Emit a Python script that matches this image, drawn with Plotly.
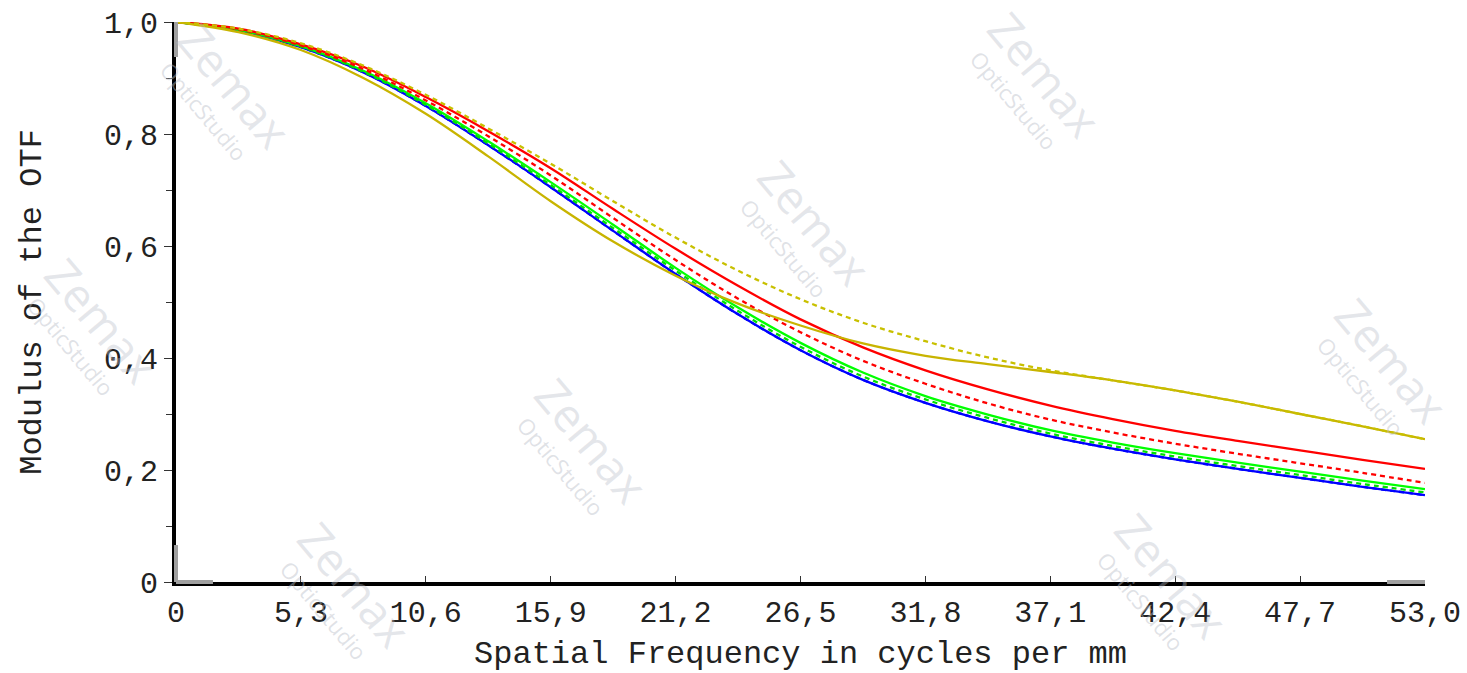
import plotly.graph_objects as go

# Spatial frequency samples (cycles per mm)
freq = [0, 2.65, 5.3, 7.95, 10.6, 13.25, 15.9, 18.55, 21.2, 23.85, 26.5,
        29.15, 31.8, 34.45, 37.1, 39.75, 42.4, 45.05, 47.7, 50.35, 53.0]

# MTF curves (T = solid, S = dotted) per field
blue_t = [1.0, 0.985, 0.955, 0.91, 0.85, 0.78, 0.705, 0.627, 0.55, 0.478, 0.414,
          0.361, 0.32, 0.287, 0.26, 0.238, 0.219, 0.202, 0.186, 0.17, 0.155]
blue_s = [1.0, 0.985, 0.955, 0.91, 0.85, 0.78, 0.705, 0.627, 0.55, 0.478, 0.414,
          0.361, 0.32, 0.287, 0.26, 0.238, 0.219, 0.202, 0.186, 0.17, 0.155]
green_t = [1.0, 0.986, 0.957, 0.913, 0.855, 0.787, 0.714, 0.638, 0.561, 0.490, 0.427,
           0.374, 0.332, 0.299, 0.271, 0.249, 0.230, 0.213, 0.197, 0.181, 0.166]
green_s = [1.0, 0.985, 0.956, 0.911, 0.852, 0.783, 0.709, 0.632, 0.556, 0.484, 0.420,
           0.367, 0.326, 0.293, 0.265, 0.243, 0.224, 0.207, 0.191, 0.175, 0.160]
red_t = [1.0, 0.988, 0.96, 0.92, 0.866, 0.805, 0.739, 0.666, 0.595, 0.529, 0.469,
         0.419, 0.378, 0.344, 0.315, 0.291, 0.27, 0.252, 0.235, 0.218, 0.202]
red_s = [1.0, 0.987, 0.958, 0.916, 0.86, 0.796, 0.726, 0.65, 0.575, 0.506, 0.446,
         0.395, 0.354, 0.319, 0.29, 0.267, 0.247, 0.229, 0.212, 0.195, 0.177]
yellow_t = [1.0, 0.982, 0.95, 0.9, 0.836, 0.76, 0.68, 0.608, 0.547, 0.497, 0.458,
            0.426, 0.404, 0.389, 0.375, 0.36, 0.342, 0.322, 0.3, 0.278, 0.255]
yellow_s = [1.0, 0.988, 0.962, 0.922, 0.87, 0.81, 0.747, 0.68, 0.615, 0.556, 0.505,
            0.463, 0.43, 0.401, 0.378, 0.36, 0.342, 0.322, 0.3, 0.278, 0.255]

x_tickvals = [0, 5.3, 10.6, 15.9, 21.2, 26.5, 31.8, 37.1, 42.4, 47.7, 53.0]
x_ticktext = ["0", "5,3", "10,6", "15,9", "21,2", "26,5", "31,8", "37,1", "42,4", "47,7", "53,0"]
y_tickvals = [0, 0.2, 0.4, 0.6, 0.8, 1.0]
y_ticktext = ["0", "0,2", "0,4", "0,6", "0,8", "1,0"]

series = [
    ("Field 1 T", blue_t, "#0000FF", "solid"),
    ("Field 1 S", blue_s, "#0000FF", "5px,4px"),
    ("Field 2 T", green_t, "#00FF00", "solid"),
    ("Field 2 S", green_s, "#00E000", "5px,4px"),
    ("Field 3 T", red_t, "#FF0000", "solid"),
    ("Field 3 S", red_s, "#FF0000", "5px,4px"),
    ("Field 4 T", yellow_t, "#C8B400", "solid"),
    ("Field 4 S", yellow_s, "#C8C000", "5px,4px"),
]

fig = go.Figure()
for name, ys, col, dash in series:
    fig.add_trace(go.Scatter(x=freq, y=ys, mode="lines", name=name,
                             line=dict(color=col, width=2.3, dash=dash,
                                       shape="spline", smoothing=1.0)))

# Plot area in pixels (used for placing decorations)
L, R, T, B = 176, 1425, 22, 582


def to_paper(px, py):
    return (px - L) / (R - L), (B - py) / (B - T)


# Watermarks ("Zemax" with "OpticStudio" beneath, rotated)
wm_color = "rgba(185,190,200,0.38)"
wm_color2 = "rgba(185,190,200,0.45)"
wm_pos = [(235, 85), (815, 222), (592, 440), (1392, 360), (1045, 74),
          (1172, 575), (102, 320), (355, 584)]
annots = []
for px, py in wm_pos:
    ax, ay = to_paper(px, py)
    annots.append(dict(
        x=ax, y=ay, xref="paper", yref="paper",
        text="Zemax", showarrow=False, textangle=50,
        font=dict(family="Open Sans, Arial", size=46, color=wm_color),
        xanchor="center", yanchor="middle"))
    bx, by = to_paper(px - 31, py + 26)
    annots.append(dict(
        x=bx, y=by, xref="paper", yref="paper",
        text="OpticStudio", showarrow=False, textangle=50,
        font=dict(family="Open Sans, Arial", size=22, color=wm_color2),
        xanchor="center", yanchor="middle"))

mono = "Liberation Mono, DejaVu Sans Mono, monospace"
gray = "#a0a0a0"
shapes = [
    dict(type="line", xref="paper", yref="paper", x0=0, x1=0, y0=0.9375, y1=1.0,
         line=dict(color=gray, width=4)),
    dict(type="line", xref="paper", yref="paper", x0=0, x1=0, y0=0.0, y1=0.066,
         line=dict(color=gray, width=4)),
    dict(type="line", xref="paper", yref="paper", x0=0, x1=0.0296, y0=0, y1=0,
         line=dict(color=gray, width=4)),
    dict(type="line", xref="paper", yref="paper", x0=0.9696, x1=1.0, y0=0, y1=0,
         line=dict(color=gray, width=4)),
]

fig.update_layout(
    width=1467, height=673,
    margin=dict(l=L, r=1467 - R, t=T, b=673 - B, autoexpand=False),
    paper_bgcolor="white", plot_bgcolor="white",
    showlegend=False,
    font=dict(family=mono, color="#222222"),
    annotations=annots,
    shapes=shapes,
    xaxis=dict(range=[0, 53], tickvals=x_tickvals, ticktext=x_ticktext,
               automargin=False,
               showgrid=False, zeroline=False, showline=True, linewidth=4,
               linecolor="black", ticks="inside", ticklen=6, tickcolor="#333",
               tickfont=dict(family=mono, size=30, color="#222"),
               title=dict(text="Spatial Frequency in cycles per mm",
                          font=dict(family=mono, size=32, color="#222"),
                          standoff=15)),
    yaxis=dict(range=[0, 1.0], tickvals=y_tickvals, ticktext=y_ticktext,
               automargin=False,
               showgrid=False, zeroline=False, showline=True, linewidth=4,
               linecolor="black", ticks="outside", ticklen=8, tickcolor="#333",
               minor=dict(dtick=0.1, ticks="outside", ticklen=6, tickcolor="#333"),
               tickfont=dict(family=mono, size=30, color="#222"),
               title=dict(text="Modulus of the OTF",
                          font=dict(family=mono, size=32, color="#222"),
                          standoff=54)),
)

fig.write_html("out.html")
